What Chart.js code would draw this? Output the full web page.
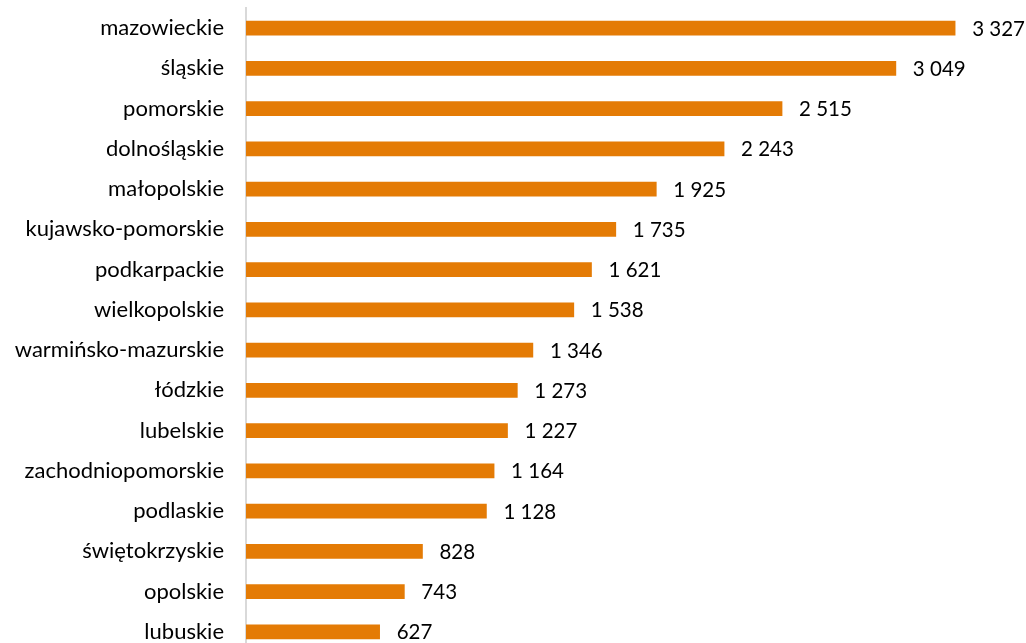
<!DOCTYPE html>
<html>
<head>
<meta charset="utf-8">
<script src="https://cdn.jsdelivr.net/npm/chart.js@4"></script>
<style>
  html, body { margin: 0; padding: 0; background: #fff; overflow: hidden; }
  #wrap { position: relative; width: 1026px; height: 652px; }
</style>
</head>
<body>
<div id="wrap"><canvas id="barChart"></canvas></div>
<script>
// województwa i wartości
const regions = [
  'mazowieckie', 'śląskie', 'pomorskie', 'dolnośląskie', 'małopolskie',
  'kujawsko-pomorskie', 'podkarpackie', 'wielkopolskie', 'warmińsko-mazurskie',
  'łódzkie', 'lubelskie', 'zachodniopomorskie', 'podlaskie', 'świętokrzyskie',
  'opolskie', 'lubuskie'
];
const values = [3327, 3049, 2515, 2243, 1925, 1735, 1621, 1538, 1346, 1273, 1227, 1164, 1128, 828, 743, 627];

const barColor = '#E47B05';
const fontFamily = 'Lato, sans-serif';
const labelSize = 22;
const valueSize = 20.5;

// liczby z odstępem tysięcy: 3 327
function fmt(v) {
  return String(v).replace(/\B(?=(\d{3})+(?!\d))/g, ' ');
}

// etykiety wartości na końcu słupków
const valueLabels = {
  id: 'valueLabels',
  afterDatasetsDraw(chart) {
    const ctx = chart.ctx;
    const meta = chart.getDatasetMeta(0);
    ctx.save();
    ctx.font = valueSize + 'px ' + fontFamily;
    ctx.fillStyle = '#000';
    ctx.textAlign = 'left';
    ctx.textBaseline = 'middle';
    meta.data.forEach((bar, i) => {
      ctx.fillText(fmt(values[i]), bar.x + 17, bar.y + 1);
    });
    ctx.restore();
  }
};

const ctx = document.getElementById('barChart');
new Chart(ctx, {
  type: 'bar',
  data: {
    labels: regions,
    datasets: [{
      data: values,
      backgroundColor: barColor,
      borderWidth: 0,
      barThickness: 14
    }]
  },
  options: {
    indexAxis: 'y',
    responsive: true,
    maintainAspectRatio: false,
    animation: false,
    layout: { padding: { top: 8, right: 34, bottom: 0, left: 0 } },
    plugins: {
      legend: { display: false },
      tooltip: { enabled: false }
    },
    scales: {
      x: {
        display: false,
        min: 0,
        max: 3500
      },
      y: {
        afterFit(scale) {
          scale.width = 246;
          scale.paddingTop = 0;
          scale.paddingBottom = 0;
        },
        grid: { display: false, drawTicks: false },
        border: { display: true, color: '#d9d9d9', width: 2 },
        ticks: {
          color: '#000',
          padding: 22,
          font: { family: fontFamily, size: labelSize }
        }
      }
    }
  },
  plugins: [valueLabels]
});
</script>
</body>
</html>
